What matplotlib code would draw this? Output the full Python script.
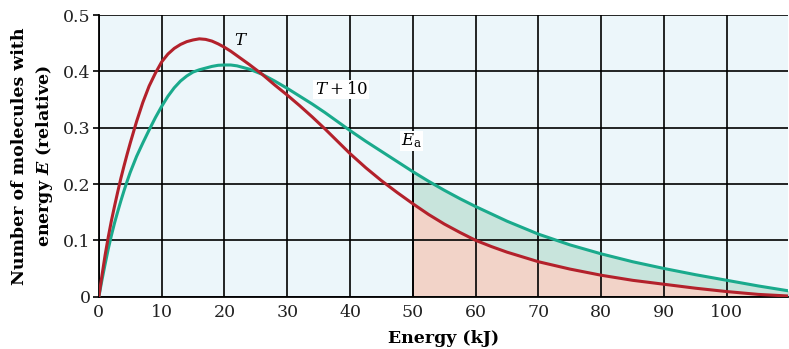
import numpy as np
import matplotlib
matplotlib.use("Agg")
import matplotlib.pyplot as plt

plt.rcParams['font.family'] = ['DejaVu Serif']
plt.rcParams['mathtext.fontset'] = 'custom'
plt.rcParams['mathtext.rm'] = 'DejaVu Serif'
plt.rcParams['mathtext.it'] = 'DejaVu Serif:italic'
plt.rcParams['mathtext.bf'] = 'DejaVu Serif:bold'
plt.rcParams['mathtext.bfit'] = 'DejaVu Serif:italic:bold'

# energy (kJ) and relative number of molecules
energy = [0, 0.5, 1, 1.5, 2, 2.5, 3, 3.5, 4, 4.5, 5, 6, 7, 8, 9, 10, 11, 12, 13,
          14, 15, 16, 17, 18, 19, 20, 21, 22, 24, 26, 28, 30, 32, 34, 36, 38, 40,
          42.5, 45, 47.5, 50, 52.5, 55, 57.5, 60, 62.5, 65, 70, 75, 80, 85, 90,
          95, 100, 105, 110]
temp_T = [0, 0.038, 0.074, 0.106, 0.135, 0.161, 0.186, 0.21, 0.232, 0.253, 0.273,
          0.311, 0.345, 0.374, 0.397, 0.417, 0.431, 0.441, 0.448, 0.453, 0.456,
          0.458, 0.457, 0.454, 0.449, 0.443, 0.436, 0.428, 0.412, 0.395, 0.376,
          0.358, 0.339, 0.319, 0.298, 0.276, 0.254, 0.229, 0.206, 0.185, 0.165,
          0.146, 0.129, 0.114, 0.1, 0.089, 0.079, 0.062, 0.049, 0.038, 0.029,
          0.022, 0.015, 0.009, 0.004, 0.001]
temp_T10 = [0, 0.03, 0.058, 0.085, 0.109, 0.131, 0.151, 0.17, 0.188, 0.205, 0.221,
            0.249, 0.273, 0.296, 0.318, 0.338, 0.356, 0.371, 0.383, 0.392, 0.399,
            0.403, 0.406, 0.409, 0.411, 0.4115, 0.4115, 0.41, 0.404, 0.395, 0.383,
            0.37, 0.356, 0.342, 0.327, 0.311, 0.295, 0.276, 0.258, 0.24, 0.222,
            0.205, 0.189, 0.174, 0.16, 0.147, 0.134, 0.111, 0.092, 0.076, 0.062,
            0.050, 0.039, 0.029, 0.019, 0.01]
Ea = 50

x = np.array(energy)
y1 = np.array(temp_T)
y2 = np.array(temp_T10)

red = '#b3212b'
teal = '#1aaa8c'

fig = plt.figure(figsize=(7.89, 3.49), dpi=100)
ax = fig.add_axes([0.1253, 0.150, 0.874, 0.8065])
ax.set_facecolor('#ecf6fa')

ax.fill_between(x, 0, y1, where=x >= Ea, color='#f2d3c8', lw=0, zorder=1)
ax.fill_between(x, y1, y2, where=x >= Ea, color='#c8e4dc', lw=0, zorder=1)
ax.plot([Ea, Ea], [0, np.interp(Ea, x, y2)], color='black', lw=1.2, zorder=2)

ax.set_xlim(0, 109.8)
ax.set_ylim(0, 0.5)
ax.set_xticks(range(0, 101, 10))
ax.set_xticklabels([str(v) for v in range(0, 101, 10)])
ax.set_yticks([0, 0.1, 0.2, 0.3, 0.4, 0.5])
ax.set_yticklabels(['0', '0.1', '0.2', '0.3', '0.4', '0.5'])
ax.grid(True, color='black', lw=1.2, zorder=1.5)
ax.set_axisbelow(False)
ax.tick_params(labelsize=12.5, colors='#222222')
ax.tick_params(axis='x', length=0, pad=5)
ax.tick_params(axis='y', length=4, width=1.2, pad=2, color='black')
for s in ['top', 'right']:
    ax.spines[s].set_visible(False)
for s in ['left', 'bottom']:
    ax.spines[s].set_linewidth(1.3)

ax.plot(x, y2, color=teal, lw=2.2, zorder=3)
ax.plot(x, y1, color=red, lw=2.2, zorder=3)

ax.text(22.6, 0.455, '$T$', fontsize=12, ha='center', va='center', zorder=4)
ax.text(38.6, 0.368, '$T + 10$', fontsize=12, ha='center', va='center', zorder=4,
        bbox=dict(facecolor='white', edgecolor='none', pad=1))
ax.text(49.8, 0.277, '$E_{\\mathrm{a}}$', fontsize=12, ha='center', va='center', zorder=4,
        bbox=dict(facecolor='white', edgecolor='none', pad=0.5))

ax.set_xlabel('Energy (kJ)', fontsize=12.5, fontweight='bold', labelpad=7)
ax.set_ylabel('Number of molecules with\nenergy $\\mathbfit{E}$ (relative)',
              fontsize=12.5, fontweight='bold', linespacing=1.35, labelpad=6)

fig.savefig('out.png', dpi=100)
